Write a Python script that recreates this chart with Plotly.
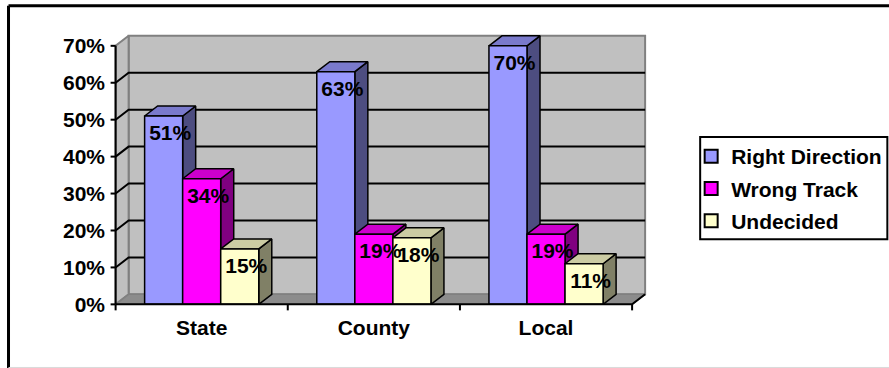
import plotly.graph_objects as go

# ---------------- data ----------------
categories = ["State", "County", "Local"]
series_names = ["Right Direction", "Wrong Track", "Undecided"]
right_direction = [51, 63, 70]
wrong_track = [34, 19, 19]
undecided = [15, 18, 11]
y_tick_values = [0, 10, 20, 30, 40, 50, 60, 70]
y_tick_labels = ["0%", "10%", "20%", "30%", "40%", "50%", "60%", "70%"]

series_values = [right_direction, wrong_track, undecided]

# ---------------- style ----------------
front_colors = ["#9999FF", "#FF00FF", "#FFFFCC"]
top_colors = ["#7A7ACC", "#CC00CC", "#CCCCA3"]
side_colors = ["#4D4D80", "#800080", "#808066"]
FONT = "Liberation Sans, Arial, sans-serif"
FS = 21

W, H = 889, 368
PX_X = 172.0      # pixels per category unit
PX_Y = 3.686      # pixels per percent
X0_PX, Y0_PX = 116, 304   # pixel position of the data origin
DX = 13 / PX_X    # 3D depth offset (x)
DY = 10 / PX_Y    # 3D depth offset (y)
GAP = 0.337
BAR_W = (1 - GAP) / len(series_values)
Y_MAX = y_tick_values[-1]
n = len(categories)

x_range = [-0.05, n + DX + 0.04]
y_range = [-1.8, Y_MAX + DY + 1.3]
margin_l = X0_PX + x_range[0] * PX_X
margin_r = W - (X0_PX + x_range[1] * PX_X)
margin_b = H - (Y0_PX - y_range[0] * PX_Y)
margin_t = Y0_PX - y_range[1] * PX_Y
plot_w = W - margin_l - margin_r
plot_h = H - margin_t - margin_b


def px_x(px):
    return (px - margin_l) / plot_w


def px_y(py):
    return (H - margin_b - py) / plot_h


fig = go.Figure()


def poly(xs, ys, fill, line_color, lw):
    fig.add_trace(go.Scatter(
        x=list(xs) + [xs[0]], y=list(ys) + [ys[0]], mode="lines",
        fill="toself", fillcolor=fill,
        line=dict(color=line_color, width=lw),
        hoverinfo="skip", showlegend=False))


def line(xs, ys, color="black", lw=2):
    fig.add_trace(go.Scatter(
        x=xs, y=ys, mode="lines", line=dict(color=color, width=lw),
        hoverinfo="skip", showlegend=False))


# walls and floor
poly([DX, n + DX, n + DX, DX], [DY, DY, Y_MAX + DY, Y_MAX + DY], "#C0C0C0", "#808080", 2)
poly([0, DX, DX, 0], [0, DY, Y_MAX + DY, Y_MAX], "#C0C0C0", "#808080", 2)
poly([0, n, n + DX, DX], [0, 0, DY, DY], "#8C8C8C", "#808080", 1.5)

# gridlines
for v in y_tick_values[1:-1]:
    line([0, DX, n + DX], [v, v + DY, v + DY], "black", 2)

# bars (left to right, side/top/front)
label_x, label_y, label_t = [], [], []
for i in range(n):
    for j, vals in enumerate(series_values):
        v = vals[i]
        x0 = i + GAP / 2 + j * BAR_W
        x1 = x0 + BAR_W
        poly([x1, x1 + DX, x1 + DX, x1], [0, DY, v + DY, v], side_colors[j], "black", 1.5)
        poly([x0, x1, x1 + DX, x0 + DX], [v, v, v + DY, v + DY], top_colors[j], "black", 1.5)
        poly([x0, x1, x1, x0], [0, 0, v, v], front_colors[j], "black", 1.5)
        label_x.append((x0 + x1) / 2 + DX / 2)
        label_y.append(v - 19 / PX_Y)
        label_t.append(f"{v}%")

# axes
line([0, 0], [0, Y_MAX], "black", 2)
for v in y_tick_values:
    line([-5 / PX_X, 0], [v, v], "black", 2)
line([0, n, n + DX], [0, 0, DY], "black", 2)
for k in range(n + 1):
    line([k, k], [0, -6 / PX_Y], "black", 2)

# data labels
fig.add_trace(go.Scatter(
    x=label_x, y=label_y, text=label_t, mode="text",
    textposition="middle center", cliponaxis=False,
    textfont=dict(family=FONT, size=FS, color="black", weight="bold"),
    hoverinfo="skip", showlegend=False))

# legend entries
for j, name in enumerate(series_names):
    fig.add_trace(go.Scatter(
        x=[None], y=[None], mode="markers", name=name,
        marker=dict(symbol="square", size=13, color=front_colors[j],
                    line=dict(color="black", width=2)),
        legendgroup=name))

fig.update_layout(
    width=W, height=H,
    margin=dict(l=margin_l, r=margin_r, t=margin_t, b=margin_b, autoexpand=False),
    paper_bgcolor="white", plot_bgcolor="white",
    showlegend=True,
    legend=dict(x=px_x(691), xanchor="left", y=px_y(136), yanchor="top",
                bgcolor="rgba(0,0,0,0)", borderwidth=0, tracegroupgap=2,
                font=dict(family=FONT, size=FS, color="black", weight="bold")),
    xaxis=dict(range=x_range, showgrid=False, zeroline=False, showline=False,
               tickvals=[i + 0.5 for i in range(n)], ticktext=categories,
               ticks="", ticklabelstandoff=2,
               tickfont=dict(family=FONT, size=FS, color="black", weight="bold")),
    yaxis=dict(range=y_range, showgrid=False, zeroline=False, showline=False,
               tickvals=y_tick_values, ticktext=y_tick_labels,
               ticks="", ticklabelstandoff=1,
               tickfont=dict(family=FONT, size=FS, color="black", weight="bold")),
    shapes=[
        dict(type="rect", xref="paper", yref="paper",
             x0=px_x(700), x1=px_x(887), y0=px_y(239), y1=px_y(137),
             line=dict(color="black", width=2)),
        dict(type="line", xref="paper", yref="paper",
             x0=px_x(9), x1=px_x(9), y0=px_y(H), y1=px_y(6),
             line=dict(color="black", width=3)),
        dict(type="line", xref="paper", yref="paper",
             x0=px_x(9), x1=px_x(W), y0=px_y(6), y1=px_y(6),
             line=dict(color="black", width=3)),
        dict(type="line", xref="paper", yref="paper",
             x0=px_x(9), x1=px_x(W), y0=px_y(H - 1), y1=px_y(H - 1),
             line=dict(color="#D9D9D9", width=1)),
    ],
    hovermode=False,
)

fig.write_html("out.html")
